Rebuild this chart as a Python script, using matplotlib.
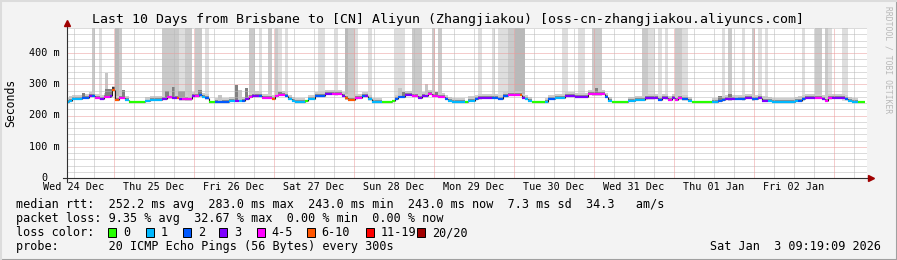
import numpy as np
import matplotlib
matplotlib.use("Agg")
import matplotlib.pyplot as plt
from matplotlib.patches import Rectangle
from matplotlib.lines import Line2D
from matplotlib.transforms import offset_copy, blended_transform_factory

W, H = 897, 260
MONO = "DejaVu Sans Mono"

# hours since Wed 24 Dec 10:00, 240 h on the x axis
# median rtt as steps: start hour, value in ms, loss class (0..7)
seg_start = [0, 0.7, 1.5, 4.5, 6.5, 7.5, 8.5, 10, 11, 13, 13.5, 14.3, 15.5, 17.5, 18.5,
             23.5, 25, 28.5, 30, 31.5, 33, 33.5, 34.5, 37.5, 38.5, 39.5, 40.5, 41.5,
             42.5, 44.5, 48.5, 50.5, 51.5, 52.5, 53.5, 54.5, 55.5, 57.5, 58.5, 61.4,
             62.4, 63.4, 65.4, 66.4, 67.4, 68.4, 71.4, 72.4, 74.4, 77.4, 79.4, 82.4,
             83.4, 84.4, 86.4, 88.4, 89.4, 90.4, 91.4, 94.4, 97.4, 98.4, 99.4, 101.4,
             103.4, 105.4, 106.4, 108.4, 109.4, 111.4, 113.4, 114.4, 115.4, 119.4,
             120.4, 122.4, 123.4, 125.4, 127.4, 129.4, 130.9, 132.4, 135.9, 136.4,
             137.4, 138.4, 139.4, 143.4, 144.4, 146.4, 149.4, 152.4, 156.4, 161.4,
             162.4, 163.4, 168.4, 170.4, 173.4, 177.4, 178.4, 180.4, 181.4, 182.4,
             183.4, 184.4, 186.4, 187.4, 193.4, 195.4, 196.4, 197.4, 200.4, 203.4,
             204.4, 205.4, 207.4, 208.4, 210.4, 211.4, 218.4, 219.4, 220.4, 221.4,
             224.4, 226.4, 227.4, 228.4, 229.4, 233.4, 234.4, 235.4, 237.4]
seg_ms = [244, 248, 252, 255, 262, 262, 257, 254, 259, 262, 283, 251, 256, 250, 243,
          245, 251, 254, 258, 256, 256, 254, 252, 262, 262, 265, 259, 255,
          244, 243, 246, 248, 248, 246, 252, 259, 264, 262, 257, 252,
          262, 265, 262, 252, 246, 243, 246, 252, 262, 268, 268, 262,
          255, 250, 255, 262, 262, 252, 243, 243, 248, 252, 259, 266,
          262, 255, 262, 270, 262, 259, 252, 246, 243, 243,
          248, 252, 255, 257, 257, 252, 262, 266, 266, 257,
          252, 246, 243, 243, 252, 255, 262, 260, 268, 259,
          246, 243, 246, 250, 255, 250, 255, 250, 255, 250,
          255, 252, 246, 243, 243, 246, 250, 252, 252, 257,
          255, 252, 257, 248, 246, 243, 246, 248, 252, 257,
          257, 252, 248, 255, 257, 252, 246, 243, 243]
seg_loss = [1, 1, 1, 2, 3, 2, 4, 3, 4, 3, 5, 5, 4, 1, 0,
            1, 1, 3, 4, 3, 5, 3, 4, 3, 4, 2, 1, 2,
            0, 2, 1, 3, 1, 2, 3, 4, 3, 2, 4, 5,
            4, 4, 2, 1, 1, 1, 0, 1, 2, 3, 4, 3,
            5, 5, 4, 2, 3, 1, 1, 0, 0, 2, 2, 3,
            4, 3, 3, 4, 4, 4, 2, 1, 1, 0,
            1, 2, 3, 3, 2, 2, 2, 4, 5, 3,
            1, 1, 0, 1, 2, 1, 3, 3, 4, 2,
            1, 0, 1, 1, 3, 2, 3, 4, 3, 4,
            4, 2, 1, 0, 1, 2, 2, 3, 2, 3,
            3, 2, 3, 3, 1, 1, 1, 2, 2, 3,
            4, 3, 4, 4, 3, 2, 1, 1, 0]
data_end = 239.5

# smoke reaching the top of the graph: start hour, end hour, shade 1..3
band_start = [7.5, 9.5, 14.3, 15.5, 28.5, 33.5, 35.5, 38.3, 41.5, 54.5, 57.5, 60.4,
              62.4, 63.4, 65.4, 75.4, 80.4, 83.4, 84.4, 86.4, 90.4, 98.4, 103.4,
              109.4, 111.4, 123.4, 127.4, 129.4, 132.4, 134.4, 148.4, 153.4, 157.4,
              172.4, 174.4, 177.4, 179.4, 182.4, 184.4, 196.4, 198.4, 202.4, 205.4,
              207.4, 209.4, 220.4, 224.4, 227.4, 228.4, 232.4]
band_end = [8.5, 10.5, 15.5, 16.5, 33.5, 35.5, 37.5, 40.5, 42.5, 56.5, 58.5, 61.4,
            63.4, 64.4, 66.4, 77.4, 81.4, 84.4, 86.4, 87.4, 91.4, 101.4, 106.4,
            110.4, 112.4, 124.4, 128.4, 132.4, 134.4, 137.4, 150.4, 155.4, 160.4,
            174.4, 176.4, 178.4, 180.4, 184.4, 186.4, 197.4, 199.4, 203.4, 206.4,
            208.4, 210.4, 221.4, 226.4, 228.4, 229.4, 234.4]
band_shade = [2, 1, 3, 2, 2, 1, 2, 2, 1, 2, 1, 2,
              2, 1, 1, 1, 1, 3, 2, 1, 1, 1, 2,
              2, 2, 1, 1, 1, 2, 3, 1, 1, 2,
              2, 1, 1, 1, 2, 1, 1, 2, 1, 2,
              1, 1, 1, 2, 2, 1, 1]

# shorter smoke spikes: start hour, end hour, top in ms, shade
spike_start = [4.5, 11.3, 11.3, 13.5, 16.5, 29.5, 31.5, 33.3, 36.3, 39.3, 45.3, 50.4,
               51.4, 53.4, 62.4, 63.4, 99.4, 100.4, 107.4, 110.4, 158.4, 195.4, 198.4,
               200.4]
spike_end = [5.5, 12.3, 13.5, 14.3, 17.5, 30.5, 32.5, 35.5, 37.5, 40.5, 46.5, 51.4,
             52.5, 54.3, 63.4, 64.4, 100.4, 101.4, 108.4, 111.4, 159.4, 196.4, 199.4,
             201.4]
spike_top = [271, 337, 285, 292, 282, 280, 292, 280, 280, 282, 266, 298,
             282, 287, 313, 276, 287, 276, 300, 276, 289, 263, 268, 260]
spike_shade = ["d", "l", "d", "k", "d", "d", "d", "m", "l", "d", "l", "d",
               "l", "d", "l", "d", "l", "d", "l", "d", "d", "d", "d", "l"]

day_labels = ["Wed 24 Dec", "Thu 25 Dec", "Fri 26 Dec", "Sat 27 Dec", "Sun 28 Dec",
              "Mon 29 Dec", "Tue 30 Dec", "Wed 31 Dec", "Thu 01 Jan", "Fri 02 Jan"]
first_midnight = 14
ytick_vals = [0, 100, 200, 300, 400]
ytick_labels = ["0", "100 m", "200 m", "300 m", "400 m"]

loss_names = ["0", "1", "2", "3", "4-5", "6-10", "11-19", "20/20"]
loss_colors = ["#26ff00", "#00b8ff", "#0059ff", "#7e00ff", "#ff00ff", "#ff5500",
               "#ff0000", "#a10000"]

title = "Last 10 Days from Brisbane to [CN] Aliyun (Zhangjiakou) [oss-cn-zhangjiakou.aliyuncs.com]"
legend_rtt = "median rtt:  252.2 ms avg  283.0 ms max  243.0 ms min  243.0 ms now  7.3 ms sd  34.3   am/s"
legend_loss = "packet loss: 9.35 % avg  32.67 % max  0.00 % min  0.00 % now"
legend_probe = "probe:       20 ICMP Echo Pings (56 Bytes) every 300s"
stamp = "Sat Jan  3 09:19:09 2026"

band_colors = {1: "#dedede", 2: "#cacaca", 3: "#b9b9b9"}
spike_colors = {"l": "#c6c6c6", "m": "#a0a0a0", "d": "#808080", "k": "#3a3a3a"}


def fx(x):
    return x / W


def fy(y):
    return 1 - y / H


def median_at(h):
    i = np.searchsorted(seg_start, h, side="right") - 1
    return seg_ms[max(i, 0)]


fig = plt.figure(figsize=(W / 100, H / 100), dpi=100, facecolor="#f3f3f3")
ax = fig.add_axes([fx(67), 82 / H, 800 / W, 150 / H])
ax.set_facecolor("white")
ax.set_xlim(0, 240)
ax.set_ylim(0, 480)
for s in ax.spines.values():
    s.set_visible(False)

starts = np.array(seg_start, dtype=float)
ends = np.append(starts[1:], data_end)
ms = np.array(seg_ms, dtype=float)
loss = np.array(seg_loss)

# tall smoke
for b0, b1, sh in zip(band_start, band_end, band_shade):
    base = median_at((b0 + b1) / 2) - 4
    ax.bar(b0, 480 - base, width=b1 - b0, bottom=base, align="edge",
           color=band_colors[sh], linewidth=0, zorder=1)

# smoke around the median
lossy = loss > 0
ax.bar(starts[lossy], 16, width=(ends - starts)[lossy], bottom=ms[lossy] - 3,
       align="edge", color="#cdcdcd", linewidth=0, zorder=2)
ax.bar(starts[lossy], 6, width=(ends - starts)[lossy], bottom=ms[lossy],
       align="edge", color="#8c8c8c", linewidth=0, zorder=2.1)

for s0, s1, top, sh in zip(spike_start, spike_end, spike_top, spike_shade):
    base = median_at((s0 + s1) / 2) - 2
    ax.bar(s0, top - base, width=s1 - s0, bottom=base, align="edge",
           color=spike_colors[sh], linewidth=0, zorder=2.5)

# grid
dot = (0, (1, 1))
for v in range(20, 481, 20):
    col = "#eb9a9a" if v % 100 == 0 else "#b9b9b9"
    ax.axhline(v, color=col, lw=0.72, ls=dot, zorder=3)
for h in np.arange(2, 240, 6):
    col = "#eb9a9a" if (h - first_midnight) % 24 == 0 else "#b9b9b9"
    ax.axvline(h, color=col, lw=0.72, ls=dot, zorder=3)

# median line
ax.vlines(starts[1:], ms[:-1], ms[1:], colors="#222222", lw=0.8, zorder=4)
ax.hlines(ms, starts, ends, colors=[loss_colors[k] for k in loss], lw=1.6, zorder=5)

# axes with arrows
ax.plot([0, 0], [-12, 492], color="#303030", lw=0.8, clip_on=False, zorder=6)
ax.plot([-1.2, 240.5], [0, 0], color="#303030", lw=0.8, clip_on=False, zorder=6)
ax.plot([0], [495], marker="^", ms=4, color="#a00000", clip_on=False, zorder=7)
ax.plot([241.2], [0], marker=">", ms=4, color="#a00000", clip_on=False, zorder=7)

label_h = [first_midnight - 12 + 24 * i for i in range(len(day_labels))]
ax.set_xticks(label_h)
ax.set_xticklabels(day_labels, fontfamily=MONO, fontsize=7.26)
ax.tick_params(axis="x", length=0, pad=3.2)
ax.set_yticks([])

trans = blended_transform_factory(ax.transAxes, ax.transData)
for v, lab in zip(ytick_vals, ytick_labels):
    shift = -7 - (12 if v == 0 else 0)
    ax.text(0, v, lab, transform=offset_copy(trans, fig=fig, x=shift, y=0, units="dots"),
            ha="right", va="center", fontfamily=MONO, fontsize=7.26)

fig.text(fx(447.5), fy(19), title, ha="center", va="center", fontfamily=MONO, fontsize=9.54)
fig.text(fx(11), fy(103), "Seconds", rotation=90, ha="center", va="center",
         fontfamily=MONO, fontsize=8.3)
fig.text(fx(887.5), fy(60), "RRDTOOL / TOBI OETIKER", rotation=270, ha="center",
         va="center", fontfamily=MONO, fontsize=5.8, color="#b8b8b8")

lg = dict(fontfamily=MONO, fontsize=8.48, va="baseline")
fig.text(fx(16), fy(208.3), legend_rtt, **lg)
fig.text(fx(16), fy(222.3), legend_loss, **lg)
fig.text(fx(16), fy(236.3), "loss color:", **lg)
fig.text(fx(16), fy(250.3), legend_probe, **lg)
fig.text(fx(881), fy(250.3), stamp, ha="right", **lg)

box_x = [108.3, 145.7, 182.7, 219.3, 256.7, 306.7, 366, 416.7]
for bx, name, col in zip(box_x, loss_names, loss_colors):
    fig.add_artist(Rectangle((fx(bx), fy(237)), 8 / W, 9 / H, transform=fig.transFigure,
                             facecolor=col, edgecolor="black", lw=0.7))
    fig.text(fx(bx + 15), fy(236.3), name, **lg)

# frame
fig.add_artist(Line2D([0, 1], [0.5 / H, 0.5 / H], transform=fig.transFigure, color="#a0a0a0", lw=1.5))
fig.add_artist(Line2D([1 - 0.5 / W, 1 - 0.5 / W], [0, 1], transform=fig.transFigure, color="#a0a0a0", lw=1.5))
fig.add_artist(Line2D([0, 1], [1 - 0.5 / H, 1 - 0.5 / H], transform=fig.transFigure, color="#dcdcdc", lw=1.5))
fig.add_artist(Line2D([0.5 / W, 0.5 / W], [0, 1], transform=fig.transFigure, color="#dcdcdc", lw=1.5))

fig.savefig("out.png", dpi=100, facecolor=fig.get_facecolor())
